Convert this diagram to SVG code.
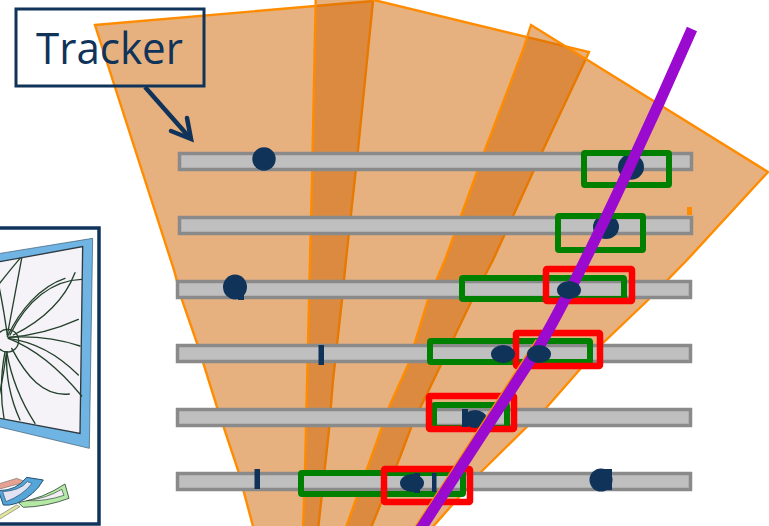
<svg xmlns="http://www.w3.org/2000/svg" width="769" height="526" viewBox="0 0 769 526">
  <style>
    .sector { fill: #D06400; fill-opacity: .5; stroke: #FF8C00; stroke-width: 2.4; stroke-linejoin: miter; }
    .bar { fill: #BFBFBF; stroke: #8A8A8A; stroke-width: 3.500; }
    .hit { fill: #10335A; }
    .green { fill: none; stroke: #008000; stroke-width: 6; }
    .red { fill: none; stroke: #FF0000; stroke-width: 6.500; }
    .track { fill: none; stroke: #24402C; stroke-width: 4; stroke-linecap: round; }
    .navy { fill: none; stroke: #10335A; }
  </style>

  <!-- event display inset, drawn in a 3x local grid -->
  <g id="inset">
    <rect x="-6" y="228" width="105" height="296" fill="#FFFFFF" stroke="#10335A" stroke-width="3.5"/>
    <g transform="translate(0 220) scale(.33333)">
      <path d="M-5,101 L278,55 L268,685 L-5,620 Z" fill="#6FB4E3" stroke="#35566E" stroke-width="2"/>
      <path d="M-5,126 L248,80 L240,640 L-5,594 Z" fill="#F5F3F7" stroke="#2F3A40" stroke-width="4"/>
      <circle cx="22" cy="362" r="34" fill="none" stroke="#24402C" stroke-width="4"/>
      <path class="track" d="M22,350 C60,270 120,200 195,175"/>
      <path class="track" d="M30,345 C80,240 160,180 245,178"/>
      <path class="track" d="M40,345 C110,310 190,250 225,158"/>
      <path class="track" d="M25,352 Q130,345 235,298"/>
      <path class="track" d="M25,352 Q140,345 240,378"/>
      <path class="track" d="M25,355 Q140,370 235,465"/>
      <path class="track" d="M25,355 Q140,400 245,528"/>
      <path class="track" d="M35,385 C80,470 130,530 208,522"/>
      <path class="track" d="M22,345 L65,115"/>
      <path class="track" d="M-5,195 Q30,150 60,115"/>
      <path class="track" d="M22,345 Q10,260 -5,190"/>
      <path class="track" d="M20,395 Q10,470 -5,540"/>
      <path class="track" d="M20,395 Q15,500 60,600"/>
      <path class="track" d="M20,395 Q40,510 105,610"/>
      <path class="track" d="M15,395 Q-5,500 12,595"/>
      <!-- detector slices below the frame -->
      <path d="M-5,792 L50,775 L78,786 L-5,808 Z" fill="#E8A090" stroke="#777" stroke-width="2"/>
      <path d="M-5,888 L50,855 L60,860 L-5,900 Z" fill="#E4E79A" stroke="#777" stroke-width="2"/>
      <path d="M55,848 Q130,835 195,792 L207,835 Q140,860 70,862 Z" fill="#B4E8A4" stroke="#2F4A3A" stroke-width="2.500"/>
      <path d="M80,842 Q140,835 185,808 L192,826 Q135,845 80,842 Z" fill="#F2EEF4" stroke="#2F4A3A" stroke-width="2"/>
      <path d="M-5,812 Q50,812 80,772 L130,780 Q105,825 50,850 Q25,858 10,855 Z" fill="#55A5D8" stroke="#24506E" stroke-width="3"/>
      <path d="M8,815 Q60,812 82,785 L96,790 Q70,825 18,845 Z" fill="#E2E2F2" stroke="#24506E" stroke-width="2"/>
    </g>
  </g>

  <rect x="16" y="9" width="188" height="77" fill="#FFFFFF"/>

  <g id="sectors">
    <path class="sector" d="M95,25 L373,1 L358,150 L346,260 L342,300 L333,380 L329,430 L318,530 L254,530 L238,470 L217,407 L197,343 L182,300 L174,270 Z"/>
    <path class="sector" d="M316,-14 L589,52 L543,150 L493,260 L472,300 L412,425 L400,457 L370,530 L303,530 L305,470 L310,260 L312,180 Z"/>
    <path class="sector" d="M531,25 L768,172 L687,260 L648,300 L603,343 L547,407 L483,470 L430,530 L345,530 L390,405 L408,365 L428,300 L445,260 L485,150 L523,50 Z"/>
    <rect x="687" y="207" width="5" height="8" fill="#FF8C00"/>
  </g>

  <g id="tracker-label">
    <rect x="16" y="9" width="188" height="77" fill="none" stroke="#10335A" stroke-width="3"/>
    <text x="36" y="64" font-family="'Open Sans', sans-serif" font-size="44" textLength="147" lengthAdjust="spacingAndGlyphs" fill="#10335A">Tracker</text>
  </g>

  <g id="layers">
    <rect class="bar" x="179.500" y="153.500" width="512" height="16"/>
    <rect class="bar" x="179.500" y="217.500" width="512" height="16"/>
    <rect class="bar" x="177.500" y="281.500" width="513" height="16"/>
    <rect class="bar" x="177.500" y="345.500" width="513" height="16"/>
    <rect class="bar" x="177.500" y="409.500" width="513" height="16"/>
    <rect class="bar" x="177.500" y="473.500" width="513" height="16"/>
  </g>

  <g id="hits-under-track">
    <circle class="hit" cx="264" cy="159" r="11.700"/>
    <ellipse class="hit" cx="631" cy="167" rx="13" ry="12.700"/>
    <ellipse class="hit" cx="606" cy="227" rx="13" ry="12"/>
    <ellipse class="hit" cx="235" cy="287" rx="12" ry="12.500"/>
    <rect class="hit" x="238" y="292" width="6" height="8"/>
    <rect class="hit" x="318.500" y="345" width="5.500" height="20"/>
  </g>

  <g id="search-windows">
    <rect class="green" x="584" y="153" width="85" height="32" rx="1"/>
    <rect class="green" x="558" y="216" width="85" height="34" rx="1"/>
    <rect class="green" x="462" y="278" width="162" height="21" rx="1"/>
    <rect class="green" x="430" y="341" width="160" height="21" rx="1"/>
    <rect class="green" x="434" y="405" width="73" height="23" rx="1"/>
    <rect class="green" x="301" y="473" width="162" height="21" rx="1"/>
    <rect class="red" x="546" y="269" width="86" height="32" rx="1"/>
    <rect class="red" x="516" y="333" width="84" height="33" rx="1"/>
    <rect class="red" x="429" y="396" width="85" height="33" rx="1"/>
    <rect class="red" x="384" y="469" width="86" height="33" rx="1"/>
  </g>

  <g id="hits-in-windows">
    <ellipse class="hit" cx="503" cy="354" rx="12" ry="9"/>
    <rect class="hit" x="462" y="409" width="6" height="18"/>
    <ellipse class="hit" cx="475" cy="419" rx="12" ry="9"/>
    <rect class="hit" x="254.500" y="469" width="5.500" height="20"/>
    <ellipse class="hit" cx="412" cy="483" rx="12" ry="9"/>
    <rect class="hit" x="414" y="473" width="6" height="20"/>
    <rect class="hit" x="432" y="473" width="4.500" height="19"/>
    <circle class="hit" cx="601" cy="480" r="11.500"/>
    <rect class="hit" x="604" y="469" width="8" height="21"/>
  </g>

  <g id="track">
    <path d="M537,340 L414,530" fill="none" stroke="#FF8C00" stroke-width="3"/>
    <path d="M692,29 C650,125 600,232 570,290 C555,318 545,338 535,353 L420,530" fill="none" stroke="#9A0BCF" stroke-width="11"/>
  </g>

  <g id="hits-over-track">
    <ellipse class="hit" cx="569" cy="290" rx="12" ry="9"/>
    <ellipse class="hit" cx="539" cy="354" rx="12" ry="9"/>
  </g>

  <g id="connectors">
    <path class="navy" stroke-width="4.500" d="M145,87 L190,138"/>
    <path class="navy" stroke-width="4.500" stroke-linecap="round" d="M171,131 L191,139 L187,118"/>
  </g>
</svg>
